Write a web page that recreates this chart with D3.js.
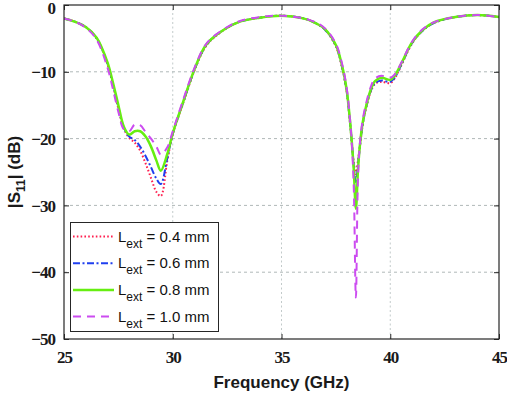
<!DOCTYPE html>
<html>
<head>
<meta charset="utf-8">
<script src="https://cdn.jsdelivr.net/npm/d3@7"></script>
<style>
  body { margin: 0; background: #fff; }
  svg { display: block; }
</style>
</head>
<body>
<svg id="chart" width="507" height="394"></svg>
<script>
// Frequency grid (GHz)
const freq = [25, 25.5, 26, 26.5, 27, 27.25, 27.5, 27.75, 28, 28.25, 28.5, 28.75, 29, 29.25, 29.45,
  29.75, 30, 30.5, 31, 31.5, 32, 33, 34, 35, 36, 36.5, 37, 37.5, 37.8, 38, 38.14, 38.22, 38.32, 38.42,
  38.52, 38.63, 38.75, 38.9, 39.1, 39.3, 39.6, 40, 40.2, 40.5, 41, 41.5, 42, 43, 44, 45]

// |S11| in dB for each extension length
const s11_04 = [-2.0, -2.5, -3.3, -5.0, -8.9, -12.0, -15.5, -18.5, -19.9, -20.6, -21.8, -23.7, -25.9, -28.0, -28.6,
  -23.3, -19.4, -14.5, -9.8, -6.3, -4.6, -2.6, -1.9, -1.6, -2.0, -2.6, -3.7, -6.2, -9.6, -13.1, -17.3, -20.2, -23.5, -25.3,
  -23.2, -20.5, -17.6, -15.3, -13.0, -11.8, -11.5, -11.7, -11.0, -9.1, -5.8, -3.8, -2.7, -1.8, -1.5, -1.8]
const s11_06 = [-2.0, -2.5, -3.3, -5.0, -8.8, -11.9, -15.3, -18.4, -19.7, -20.2, -21.2, -22.6, -24.3, -26.0, -26.8,
  -22.9, -19.3, -14.4, -9.7, -6.2, -4.5, -2.6, -1.9, -1.6, -2.0, -2.6, -3.7, -6.1, -9.5, -13.0, -17.2, -20.1, -24.0, -26.7,
  -23.8, -20.4, -17.5, -15.2, -12.9, -11.7, -11.3, -11.5, -10.9, -9.0, -5.7, -3.8, -2.7, -1.8, -1.5, -1.8]
const s11_08 = [-2.0, -2.5, -3.3, -4.9, -8.6, -11.6, -15.0, -18.2, -19.4, -18.9, -18.9, -19.7, -21.2, -23.3, -24.8,
  -22.3, -19.2, -14.3, -9.6, -6.1, -4.5, -2.6, -1.9, -1.6, -2.0, -2.6, -3.6, -6.0, -9.3, -12.8, -17.0, -20.0, -24.5, -30.5,
  -24.5, -20.2, -17.3, -15.0, -12.7, -11.4, -10.9, -11.2, -10.6, -8.8, -5.6, -3.7, -2.6, -1.8, -1.5, -1.8]
const s11_10 = [-2.0, -2.5, -3.4, -5.2, -9.4, -12.6, -16.0, -18.6, -18.9, -17.9, -18.0, -19.0, -20.0, -21.2, -22.4,
  -21.3, -18.9, -14.0, -9.4, -6.0, -4.4, -2.5, -1.8, -1.6, -2.0, -2.5, -3.5, -5.8, -9.0, -12.5, -16.8, -20.0, -27.0, -43.8,
  -25.5, -19.8, -16.9, -14.6, -12.3, -11.0, -10.6, -10.9, -10.4, -8.7, -5.5, -3.6, -2.6, -1.8, -1.5, -1.8]

const legendValues = ['0.4', '0.6', '0.8', '1.0']
const xTicks = [25, 30, 35, 40, 45]
const yTicks = [0, -10, -20, -30, -40, -50]

const series = [
  { vals: s11_04, color: '#ff1f4f', width: 2, dash: '1.6,2.2' },
  { vals: s11_06, color: '#1f3fef', width: 2, dash: '7,2.5,2,2.5' },
  { vals: s11_08, color: '#66ee11', width: 2.5, dash: null },
  { vals: s11_10, color: '#cc4cf0', width: 2, dash: '8,6' },
]

const svg = d3.select('#chart')
const m = { left: 64, right: 8, top: 5, bottom: 55 }
const W = 507, H = 394
const x = d3.scaleLinear().domain([25, 45]).range([m.left, W - m.right])
const y = d3.scaleLinear().domain([-50, 0]).range([H - m.bottom, m.top])

const serifFont = '"Times New Roman", "Liberation Serif", "DejaVu Serif", serif'
const sansFont = '"Liberation Sans", Arial, sans-serif'

// grid
const grid = svg.append('g')
grid.selectAll('line.gx').data(xTicks.slice(1, -1)).join('line')
  .attr('x1', d => x(d)).attr('x2', d => x(d))
  .attr('y1', y(-50)).attr('y2', y(0))
  .attr('stroke', '#c2caca').attr('stroke-width', 1).attr('stroke-dasharray', '2,2.5')
grid.selectAll('line.gy').data(yTicks.slice(1, -1)).join('line')
  .attr('x1', x(25)).attr('x2', x(45))
  .attr('y1', d => y(d)).attr('y2', d => y(d))
  .attr('stroke', '#b0b8b8').attr('stroke-width', 1).attr('stroke-dasharray', '3,3')

// curves
svg.append('clipPath').attr('id', 'plotclip').append('rect')
  .attr('x', x(25)).attr('y', y(0)).attr('width', x(45) - x(25)).attr('height', y(-50) - y(0))
const line = d3.line().x((d, i) => x(freq[i])).y(d => y(d)).curve(d3.curveCatmullRom.alpha(0.5))
const curves = svg.append('g').attr('clip-path', 'url(#plotclip)')
series.forEach(s => {
  curves.append('path').datum(s.vals)
    .attr('d', line).attr('fill', 'none')
    .attr('stroke', s.color).attr('stroke-width', s.width)
    .attr('stroke-dasharray', s.dash)
})

// axes (inward ticks, MATLAB style box)
const axisColor = '#262626'
const xAxis = d3.axisBottom(x).tickValues(xTicks).tickSizeInner(-5).tickSizeOuter(0).tickFormat(d3.format('d'))
const yAxis = d3.axisLeft(y).tickValues(yTicks).tickSizeInner(-5).tickSizeOuter(0).tickFormat(d3.format('d'))

const gx = svg.append('g').attr('transform', `translate(0,${y(-50)})`).call(xAxis)
gx.selectAll('text').attr('dy', null).attr('y', 24)
  .style('font-family', serifFont).style('font-weight', 'bold').style('font-size', '17px')
  .attr('letter-spacing', -1).attr('fill', '#1a1a1a')
const gy = svg.append('g').attr('transform', `translate(${x(25)},0)`).call(yAxis)
gy.selectAll('text').attr('x', -9).attr('dy', d => d === 0 ? '0.48em' : '0.34em')
  .style('font-family', serifFont).style('font-weight', 'bold').style('font-size', '17px')
  .attr('letter-spacing', -1).attr('fill', '#1a1a1a')
svg.append('g').attr('transform', `translate(0,${y(0)})`)
  .call(d3.axisTop(x).tickValues(xTicks).tickSizeInner(-5).tickSizeOuter(0).tickFormat(''))
svg.append('g').attr('transform', `translate(${x(45)},0)`)
  .call(d3.axisRight(y).tickValues(yTicks).tickSizeInner(-5).tickSizeOuter(0).tickFormat(''))
svg.selectAll('.domain').remove()
svg.selectAll('.tick line').attr('stroke', axisColor)
svg.append('rect')
  .attr('x', x(25)).attr('y', y(0)).attr('width', x(45) - x(25)).attr('height', y(-50) - y(0))
  .attr('fill', 'none').attr('stroke', axisColor).attr('stroke-width', 1.2)

// axis titles
svg.append('text')
  .attr('x', (x(25) + x(45)) / 2).attr('y', 388)
  .attr('text-anchor', 'middle').attr('font-family', sansFont).attr('font-weight', 'bold')
  .attr('font-size', 17).attr('fill', '#1a1a1a')
  .text('Frequency (GHz)')

const yt = svg.append('text')
  .attr('transform', `translate(20,${(y(0) + y(-50)) / 2}) rotate(-90)`)
  .attr('text-anchor', 'middle').attr('font-family', sansFont).attr('font-weight', 'bold')
  .attr('font-size', 17).attr('fill', '#1a1a1a')
yt.append('tspan').text('|S')
yt.append('tspan').attr('font-size', 12).attr('dy', 5).text('11')
yt.append('tspan').attr('dy', -5).text('| (dB)')

// legend
const lg = svg.append('g')
lg.append('rect')
  .attr('x', 70.5).attr('y', 222.5).attr('width', 148).attr('height', 109)
  .attr('fill', '#fff').attr('stroke', axisColor).attr('stroke-width', 1)
series.forEach((s, i) => {
  const ly = 236.5 + i * 26.7
  lg.append('line')
    .attr('x1', 73).attr('x2', 114).attr('y1', ly).attr('y2', ly)
    .attr('stroke', s.color).attr('stroke-width', s.width)
    .attr('stroke-dasharray', s.dash)
  const t = lg.append('text')
    .attr('x', 118).attr('y', ly + 5)
    .attr('font-family', sansFont).attr('font-size', 15).attr('fill', '#111')
  t.append('tspan').text('L')
  t.append('tspan').attr('font-size', 12).attr('dy', 6).text('ext')
  t.append('tspan').attr('dy', -6).text(` = ${legendValues[i]} mm`)
})
</script>
</body>
</html>
